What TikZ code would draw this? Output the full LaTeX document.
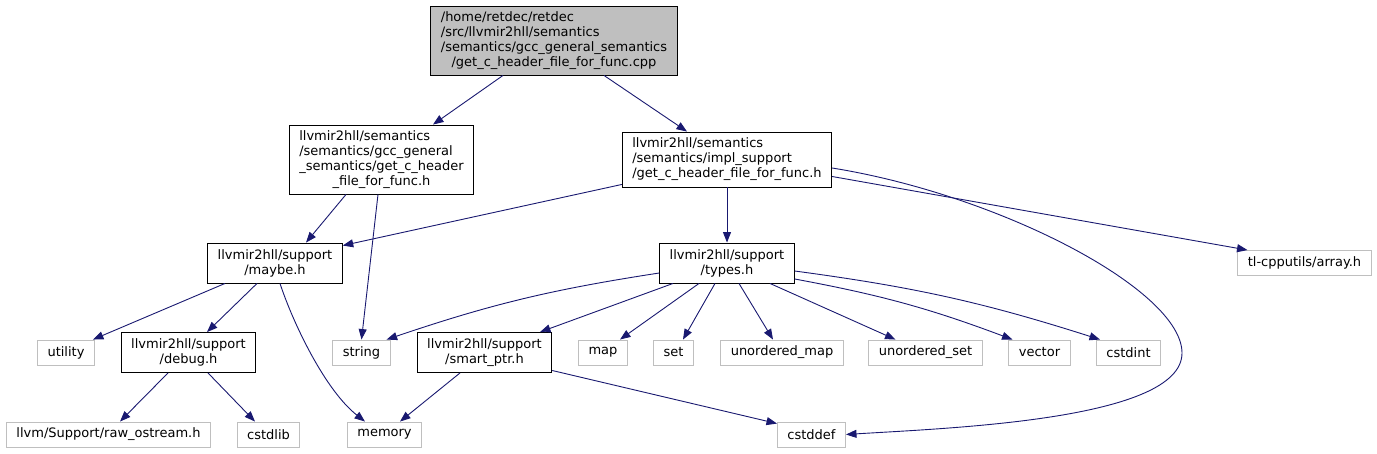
\documentclass[tikz,border=0pt]{standalone}
\usepackage{fontspec}
\setmainfont{DejaVu Sans}
\usepackage{tikz}
\usetikzlibrary{arrows.meta}
\usepackage{xcolor}
\definecolor{edgeblue}{HTML}{191970}
\definecolor{leafgray}{HTML}{BFBFBF}

\begin{document}
\begin{tikzpicture}[x=1pt,y=-1pt,
font=\fontsize{13}{15}\selectfont,
mains/.style={rectangle,draw=black,line width=0.9pt,fill=leafgray,inner xsep=10pt,inner ysep=0pt,minimum height=69pt},
docs/.style={rectangle,draw=black,line width=0.9pt,fill=white,inner xsep=10pt,inner ysep=0pt,minimum height=40pt,align=center},
leafs/.style={rectangle,draw=leafgray,line width=0.9pt,fill=white,inner xsep=10pt,inner ysep=0pt,minimum height=25pt},
incl/.style={draw=edgeblue,line width=0.9pt,-{Triangle[length=10.5pt,width=8pt]}}]
\useasboundingbox (0,0) rectangle (1377,453);

\node [mains] (main) at (554,40.5) {\begin{tabular}{@{}l@{}}/home/retdec/retdec\\/src/llvmir2hll/semantics\\/semantics/gcc\_general\_semantics\\\multicolumn{1}{@{}c@{}}{/get\_c\_header\_file\_for\_func.cpp}\end{tabular}};

\node [docs,minimum height=69pt] (gcc) at (381.5,159.5) {\begin{tabular}{@{}l@{}}llvmir2hll/semantics\\/semantics/gcc\_general\\\_semantics/get\_c\_header\\\multicolumn{1}{@{}c@{}}{\_file\_for\_func.h}\end{tabular}};
\node [docs,minimum height=55pt,align=left] (impl) at (727,159.5) {llvmir2hll/semantics\\/semantics/impl\_support\\/get\_c\_header\_file\_for\_func.h};

\node [docs] (maybe) at (275,263) {llvmir2hll/support\\/maybe.h};
\node [docs] (types) at (727,263) {llvmir2hll/support\\/types.h};
\node [leafs] (array) at (1304.5,263) {tl-cpputils/array.h};

\node [docs] (debug) at (188.5,352.5) {llvmir2hll/support\\/debug.h};
\node [docs] (smartptr) at (484.5,352.5) {llvmir2hll/support\\/smart\_ptr.h};
\foreach \nm/\xx/\txt in {utility/66/utility, string/361.5/string, map/603/map, set/673.5/set, umap/782/unordered\_map, uset/925.5/unordered\_set, vector/1039.5/vector, cstdint/1128.5/cstdint}
    \node [leafs] (\nm) at (\xx,352.5) {\txt};

\node [leafs] (rawostream) at (108.5,434.5) {llvm/Support/raw\_ostream.h};
\node [leafs] (cstdlib) at (268.5,434.5) {cstdlib};
\node [leafs] (memory) at (384.5,434.5) {memory};
\node [leafs] (cstddef) at (811.5,434.5) {cstddef};

\draw [incl] ([xshift=-51pt]main.south) -- ([xshift=51.5pt]gcc.north);
\draw [incl] ([xshift=50pt]main.south) -- ([xshift=-40pt]impl.north);
\draw [incl] ([xshift=-35.5pt]gcc.south) -- ([xshift=31pt]maybe.north);
\draw [incl] ([xshift=-3.5pt]gcc.south) -- (string.north);
\draw [incl] ([yshift=3pt]impl.south west) -- ([yshift=-3pt]maybe.north east);
\draw [incl] (impl) -- (types);
\draw [incl] ([yshift=-17pt]impl.east) -- ([xshift=-57pt]array.north);
\draw [incl] ([yshift=-8.5pt]impl.east) .. controls (1000,195) and (1182,290) .. (1182,353) .. controls (1182,420) and (950,428) .. (cstddef.east);
\draw [incl] ([xshift=-50pt]maybe.south) -- ([xshift=-2pt]utility.north east);
\draw [incl] ([xshift=-18pt]maybe.south) -- ([xshift=18.5pt]debug.north);
\draw [incl] ([xshift=5pt]maybe.south) .. controls (293,323) and (325,390) .. ([xshift=-19.5pt]memory.north);
\draw [incl] ([xshift=-20.5pt]debug.south) -- ([xshift=11.5pt]rawostream.north);
\draw [incl] ([xshift=19.5pt]debug.south) -- ([xshift=-13.5pt]cstdlib.north);
\draw [incl] ([xshift=-24.5pt]smartptr.south) -- ([xshift=15.5pt]memory.north);
\draw [incl] ([yshift=-18pt]smartptr.east) -- ([yshift=-2pt]cstddef.north west);
\draw [incl] ([yshift=-10pt]types.west) to[bend right=5] ([xshift=-4pt]string.north east);
\foreach \dst/\ax/\bx in {smartptr/-54/55.5, map/-28/17, set/-12/9.5, umap/12/-9, uset/43/-30}
    \draw [incl] ([xshift=\ax pt]types.south) -- ([xshift=\bx pt]\dst.north);
\draw [incl] ([yshift=-16pt]types.east) to[bend left=5] ([xshift=-27pt]vector.north);
\draw [incl] ([yshift=-8pt]types.east) to[bend left=5] ([xshift=-28.5pt]cstdint.north);
\end{tikzpicture}
\end{document}
